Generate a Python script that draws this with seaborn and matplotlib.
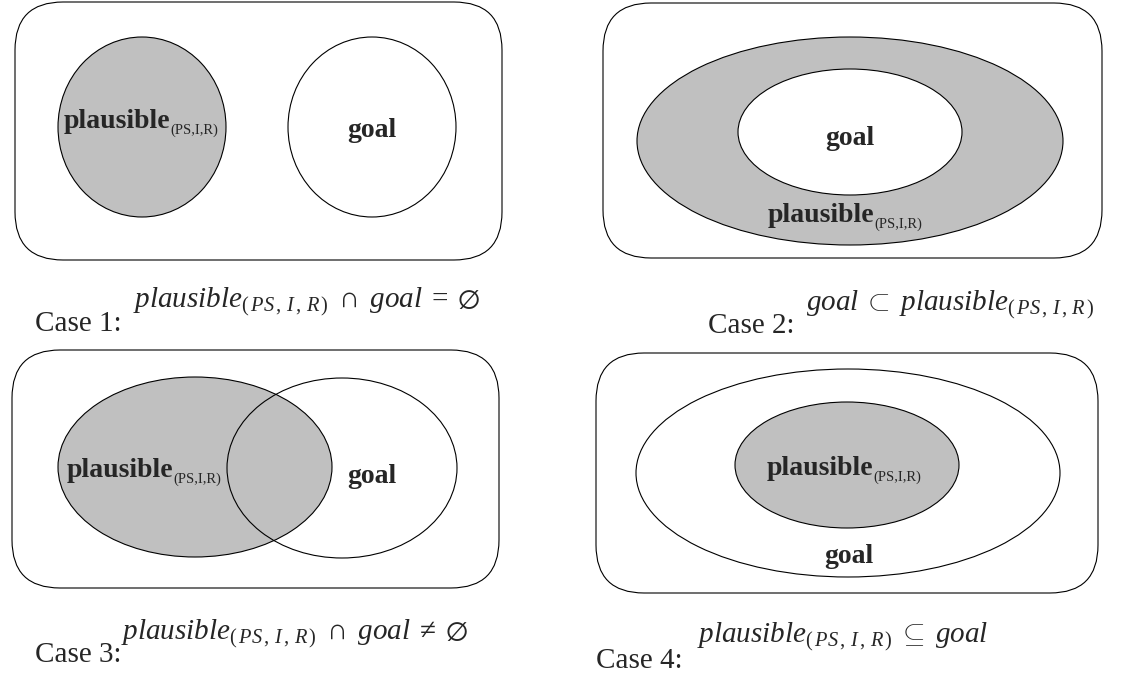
import matplotlib
matplotlib.use("Agg")
import matplotlib.pyplot as plt
from matplotlib.patches import Ellipse, FancyBboxPatch
import seaborn as sns

sns.set_theme(style="white")
plt.rcParams["font.family"] = ["Liberation Serif", "DejaVu Serif"]
plt.rcParams["mathtext.fontset"] = "custom"
plt.rcParams["mathtext.rm"] = "Liberation Serif"
plt.rcParams["mathtext.it"] = "Liberation Serif:italic"
plt.rcParams["mathtext.bf"] = "Liberation Serif:bold"

# ---- diagram content (pixel space of a 1141x676 canvas) ----
SUB = r"_{(\,PS\,,\,I\,,\,R\,)}"
case_names = ["Case 1:", "Case 2:", "Case 3:", "Case 4:"]
case_formulas = [
    r"$plausible" + SUB + r"\;\cap\;goal\;=\;\varnothing$",
    r"$goal\;\subset\;plausible" + SUB + r"$",
    r"$plausible" + SUB + r"\;\cap\;goal\;\neq\;\varnothing$",
    r"$plausible" + SUB + r"\;\subseteq\;goal$",
]
# universe boxes: x0, y0, x1, y1
boxes = [(15, 2, 502, 260), (603, 3, 1102, 258), (12, 350, 499, 588), (596, 353, 1098, 593)]
# sets: (case, name, cx, cy, rx, ry, shaded)
sets = [
    (0, "plausible", 142, 127, 84, 90, True),
    (0, "goal", 372, 127, 84, 90, False),
    (1, "plausible", 850, 141, 213, 104, True),
    (1, "goal", 850, 132, 112, 63, False),
    (2, "plausible", 195, 467, 137, 90, True),
    (2, "goal", 342, 468, 115, 90, None),
    (3, "goal", 848, 473, 212, 104, False),
    (3, "plausible", 847, 465, 112, 63, True),
]
# set labels: (text, x, baseline y, anchor)
labels = [
    ("plausible", 64, 128, "left"), ("goal", 372, 137, "center"),
    ("goal", 850, 145, "center"), ("plausible", 768, 222, "left"),
    ("plausible", 67, 477, "left"), ("goal", 372, 483, "center"),
    ("plausible", 767, 475, "left"), ("goal", 849, 563, "center"),
]
sub_label = "(PS,I,R)"
# caption positions: (x case, baseline case, x formula, baseline formula)
caption_pos = [(35, 331, 133, 307), (708, 333, 806, 310), (35, 662, 121, 639), (596, 668, 697, 642)]

SHADE = "#c0c0c0"
LW = 0.8

fig = plt.figure(figsize=(11.41, 6.76), dpi=100)
ax = fig.add_axes([0, 0, 1, 1])
ax.set_xlim(0, 1141)
ax.set_ylim(676, 0)
ax.set_axis_off()

for (x0, y0, x1, y1) in boxes:
    ax.add_patch(FancyBboxPatch((x0, y0), x1 - x0, y1 - y0,
                                boxstyle="round,pad=0,rounding_size=48",
                                fc="white", ec="black", lw=LW, zorder=1))

for (c, name, cx, cy, rx, ry, shaded) in sets:
    if shaded is None:
        fc = "none"
    else:
        fc = SHADE if shaded else "white"
    ax.add_patch(Ellipse((cx, cy), 2 * rx, 2 * ry, fc=fc, ec="black", lw=LW, zorder=2))

for (txt, x, y, ha) in labels:
    t = ax.text(x, y, txt, ha=ha, va="baseline", fontsize=20,
                fontweight="bold", zorder=5)
    if txt == "plausible":
        ax.annotate(sub_label, xy=(1.0, 0.0), xycoords=t, xytext=(-0.5, -2.5),
                    textcoords="offset points", ha="left", va="bottom",
                    fontsize=10.5, zorder=5)

for name, formula, (xc, yc, xf, yf) in zip(case_names, case_formulas, caption_pos):
    ax.text(xc, yc, name, ha="left", va="baseline", fontsize=21)
    ax.text(xf, yf, formula, ha="left", va="baseline", fontsize=21)

fig.savefig("out.png", dpi=100)
